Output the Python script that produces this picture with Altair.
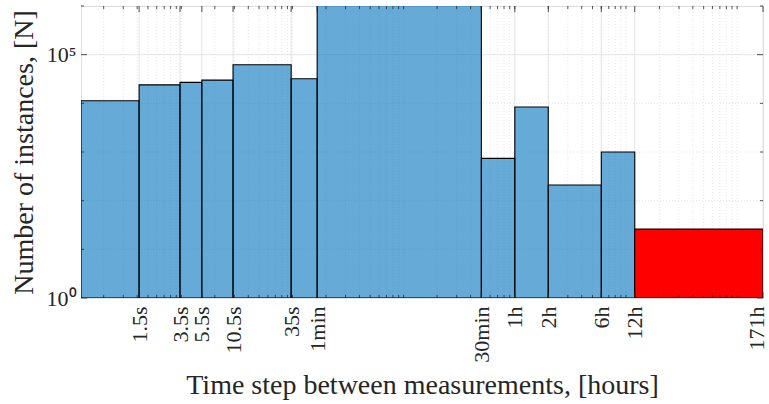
import altair as alt
import pandas as pd

# Bin edges of the time step (seconds) and instance counts per bin
edges_s = [0.45, 1.5, 3.5, 5.5, 10.5, 35, 60, 1800, 3600, 7200, 21600, 43200, 615600]
counts = [11300, 24000, 27000, 30000, 62000, 32000, 1500000, 740, 8400, 210, 1000, 26]
groups = ["regular"] * 11 + ["long gap"]

tick_s = [1.5, 3.5, 5.5, 10.5, 35, 60, 1800, 3600, 7200, 21600, 43200, 615600]
tick_labels = ["1.5s", "3.5s", "5.5s", "10.5s", "35s", "1min", "30min",
               "1h", "2h", "6h", "12h", "171h"]

y_major = [1, 1e5]
y_minor = [10, 100, 1000, 10000, 1e6]

FONT = "Liberation Serif"
INK = "#262626"
W, H = 682, 292

x_lo = edges_s[0] / 3600
x_hi = edges_s[-1] / 3600
tick_h = [s / 3600 for s in tick_s]

bars = pd.DataFrame({
    "lo": [e / 3600 for e in edges_s[:-1]],
    "hi": [e / 3600 for e in edges_s[1:]],
    "n": counts,
    "group": groups,
})

# log-scale minor positions (n x 10^k hours) inside the x range
x_minor = [n * 10.0 ** k for k in range(-4, 3) for n in range(1, 10)
           if x_lo <= n * 10.0 ** k <= x_hi]

xdf_major = pd.DataFrame({"x": tick_h})
xdf_minor = pd.DataFrame({"x": x_minor})
ydf_major = pd.DataFrame({"y": y_major})
ydf_minor = pd.DataFrame({"y": y_minor})

xscale = alt.Scale(type="log", domain=[x_lo, x_hi], nice=False)
yscale = alt.Scale(type="log", domain=[1, 1e6], nice=False)

# label lookup for the custom x ticks (geometric midpoints as thresholds)
expr = f"'{tick_labels[-1]}'"
for i in range(len(tick_h) - 2, -1, -1):
    mid = (tick_h[i] * tick_h[i + 1]) ** 0.5
    expr = f"datum.value < {mid!r} ? '{tick_labels[i]}' : ({expr})"

X_TITLE = "Time step between measurements, [hours]"
Y_TITLE = "Number of instances, [N]"

x_axis = alt.Axis(
    values=tick_h, labelExpr=expr, labelAngle=270, labelAlign="right",
    labelBaseline="middle", labelPadding=8, labelFont=FONT, labelFontSize=22,
    labelColor=INK, ticks=False, domain=False, grid=False, labelOverlap=False,
    labelFlush=False,
    # keep the last (right-edge) label inside the canvas
    labelOffset={"condition": {"test": f"datum.value > {tick_h[-2] * 2}", "value": -7},
                 "value": 0},
    title=X_TITLE, titleFont=FONT,
    titleFontSize=28, titleFontWeight="normal", titleColor=INK,
    titleBaseline="alphabetic", titleY=95,
)
y_axis = alt.Axis(
    values=y_major, labelExpr="datum.value < 10 ? '10⁰' : '10⁵'",
    labelPadding=5, labelFont=FONT, labelFontSize=22, labelColor=INK,
    ticks=False, domain=False, grid=False,
    title=Y_TITLE, titleFont=FONT, titleFontSize=28,
    titleFontWeight="normal", titleColor=INK, titleBaseline="alphabetic",
    titleX=-49,
)


def xq(field):
    return alt.X(field, scale=xscale, axis=x_axis, title=X_TITLE)


def yq(field):
    return alt.Y(field, scale=yscale, axis=y_axis, title=Y_TITLE)


grid_minor_x = alt.Chart(xdf_minor).mark_rule(
    color="#dcdcdc", strokeWidth=0.7, strokeDash=[1, 2]
).encode(x=xq("x:Q"))

grid_minor_y = alt.Chart(ydf_minor).mark_rule(
    color="#dcdcdc", strokeWidth=0.7, strokeDash=[1, 2]
).encode(y=yq("y:Q"))

grid_major_x = alt.Chart(xdf_major).mark_rule(
    color="#dedede", strokeWidth=0.8
).encode(x=xq("x:Q"))

grid_major_y = alt.Chart(ydf_major).mark_rule(
    color="#dedede", strokeWidth=0.8
).encode(y=yq("y:Q"))

histogram = alt.Chart(bars).mark_rect(
    stroke="black", strokeWidth=1.1, clip=True
).encode(
    x=xq("lo:Q"),
    x2="hi:Q",
    y=yq("n:Q"),
    y2=alt.datum(1),
    color=alt.Color("group:N", legend=None,
                    scale=alt.Scale(domain=["regular", "long gap"],
                                    range=["#0072BD", "#FF0000"])),
    fillOpacity=alt.FillOpacity("group:N", legend=None,
                                scale=alt.Scale(domain=["regular", "long gap"],
                                                range=[0.6, 1.0])),
)

# inward tick marks on all four sides of the box
tick_kw = dict(color=INK, strokeWidth=0.8)
ticks_bottom_major = alt.Chart(xdf_major).mark_rule(**tick_kw).encode(
    x=xq("x:Q"), y=alt.value(H), y2=alt.value(H - 6))
ticks_top_major = alt.Chart(xdf_major).mark_rule(**tick_kw).encode(
    x=xq("x:Q"), y=alt.value(0), y2=alt.value(6))
ticks_bottom_minor = alt.Chart(xdf_minor).mark_rule(**tick_kw).encode(
    x=xq("x:Q"), y=alt.value(H), y2=alt.value(H - 3))
ticks_top_minor = alt.Chart(xdf_minor).mark_rule(**tick_kw).encode(
    x=xq("x:Q"), y=alt.value(0), y2=alt.value(3))
ticks_left_major = alt.Chart(ydf_major).mark_rule(**tick_kw).encode(
    y=yq("y:Q"), x=alt.value(0), x2=alt.value(6))
ticks_right_major = alt.Chart(ydf_major).mark_rule(**tick_kw).encode(
    y=yq("y:Q"), x=alt.value(W), x2=alt.value(W - 6))
ticks_left_minor = alt.Chart(ydf_minor).mark_rule(**tick_kw).encode(
    y=yq("y:Q"), x=alt.value(0), x2=alt.value(3))
ticks_right_minor = alt.Chart(ydf_minor).mark_rule(**tick_kw).encode(
    y=yq("y:Q"), x=alt.value(W), x2=alt.value(W - 3))

chart = alt.layer(
    grid_minor_x, grid_minor_y, grid_major_x, grid_major_y,
    histogram,
    ticks_bottom_minor, ticks_top_minor, ticks_bottom_major, ticks_top_major,
    ticks_left_major, ticks_right_major, ticks_left_minor, ticks_right_minor,
).properties(
    width=W, height=H,
    padding={"left": 81, "top": 6, "right": 6, "bottom": 106},
    autosize=alt.AutoSizeParams(type="none"),
).configure_view(
    stroke="#555555", strokeWidth=1
).configure(background="white")

chart.save("out.html", embed_options={"renderer": "svg", "actions": False})
